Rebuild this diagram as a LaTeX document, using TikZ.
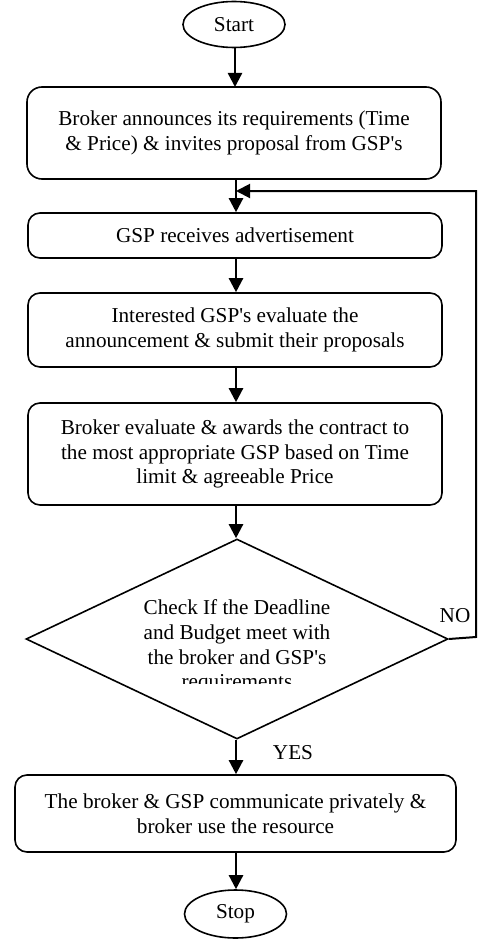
\documentclass[tikz,border=0pt]{standalone}
\usepackage{fontspec}
\setmainfont{Liberation Serif}[Ligatures=TeXOff]
\usetikzlibrary{arrows.meta,shapes.geometric}
\begin{document}
\begin{tikzpicture}[x=1pt,y=-1pt,
  every node/.style={font=\fontsize{21.2}{24.7}\selectfont, inner sep=0pt},
  terminal/.style={draw, line width=1.6pt, ellipse, minimum width=102, minimum height=46},
  procbox/.style={draw, line width=1.6pt, rounded corners=12pt, align=center, minimum width=414},
  decision/.style={draw, line width=1.6pt, diamond, minimum width=422, minimum height=200},
  flow/.style={line width=2.4pt, -{Triangle[width=14pt,length=14pt]}},
  loopline/.style={line width=2pt, -{Triangle[width=14pt,length=14pt]}},
  tag/.style={anchor=center}]
\useasboundingbox (0,0) rectangle (480,939);

\node[terminal] (start) at (234,24.5) {Start};
\node[procbox, minimum height=92, rounded corners=15pt] (announce) at (234,133)
  {Broker announces its requirements (Time\\\& Price) \& invites proposal from GSP's};
\node[procbox, minimum height=45] (receive) at (235,235.5) {GSP receives advertisement};
\node[procbox, minimum height=74] (submit) at (235,330)
  {Interested GSP's evaluate the\\announcement \& submit their proposals};
\node[procbox, minimum height=102] (award) at (235,454)
  {Broker evaluate \& awards the contract to\\the most appropriate GSP based on Time\\limit \& agreeable Price};
\node[decision] (check) at (237,639) {};
% the last line of the decision text is cut off by the clip
\begin{scope}
  \clip (26,539) rectangle (448,683.5);
  \node[align=center] (checktext) at (237,646.5)
    {Check If the Deadline\\and Budget meet with\\the broker and GSP's\\requirements};
\end{scope}
\node[procbox, minimum width=441, minimum height=77] (deal) at (235.5,813.5)
  {The broker \& GSP communicate privately \&\\broker use the resource};
\node[terminal, minimum height=48] (stop) at (235.5,914) {Stop};

\coordinate (join) at (236,191);
\coordinate (loopcorner) at (476,637);

\draw[flow] (start.south -| 235,0) -- (235,87);
\draw[flow] (236,179) -- (receive.north -| 236,0);
\draw[flow] (236,258) -- (submit.north -| 236,0);
\draw[flow] (236,367) -- (award.north -| 236,0);
\draw[flow] (236,505) -- (check.north -| 236,0);
\draw[flow] (check.south -| 236,0) -- (deal.north -| 236,0);
\draw[flow] (236,852) -- (stop.north -| 236,0);
\draw[loopline] (check.east) -- (loopcorner) -- (476,191) -- (join);

\node[tag] (nolabel) at (455,616) {NO};
\node[tag] (yeslabel) at (293,753) {YES};
\end{tikzpicture}
\end{document}
